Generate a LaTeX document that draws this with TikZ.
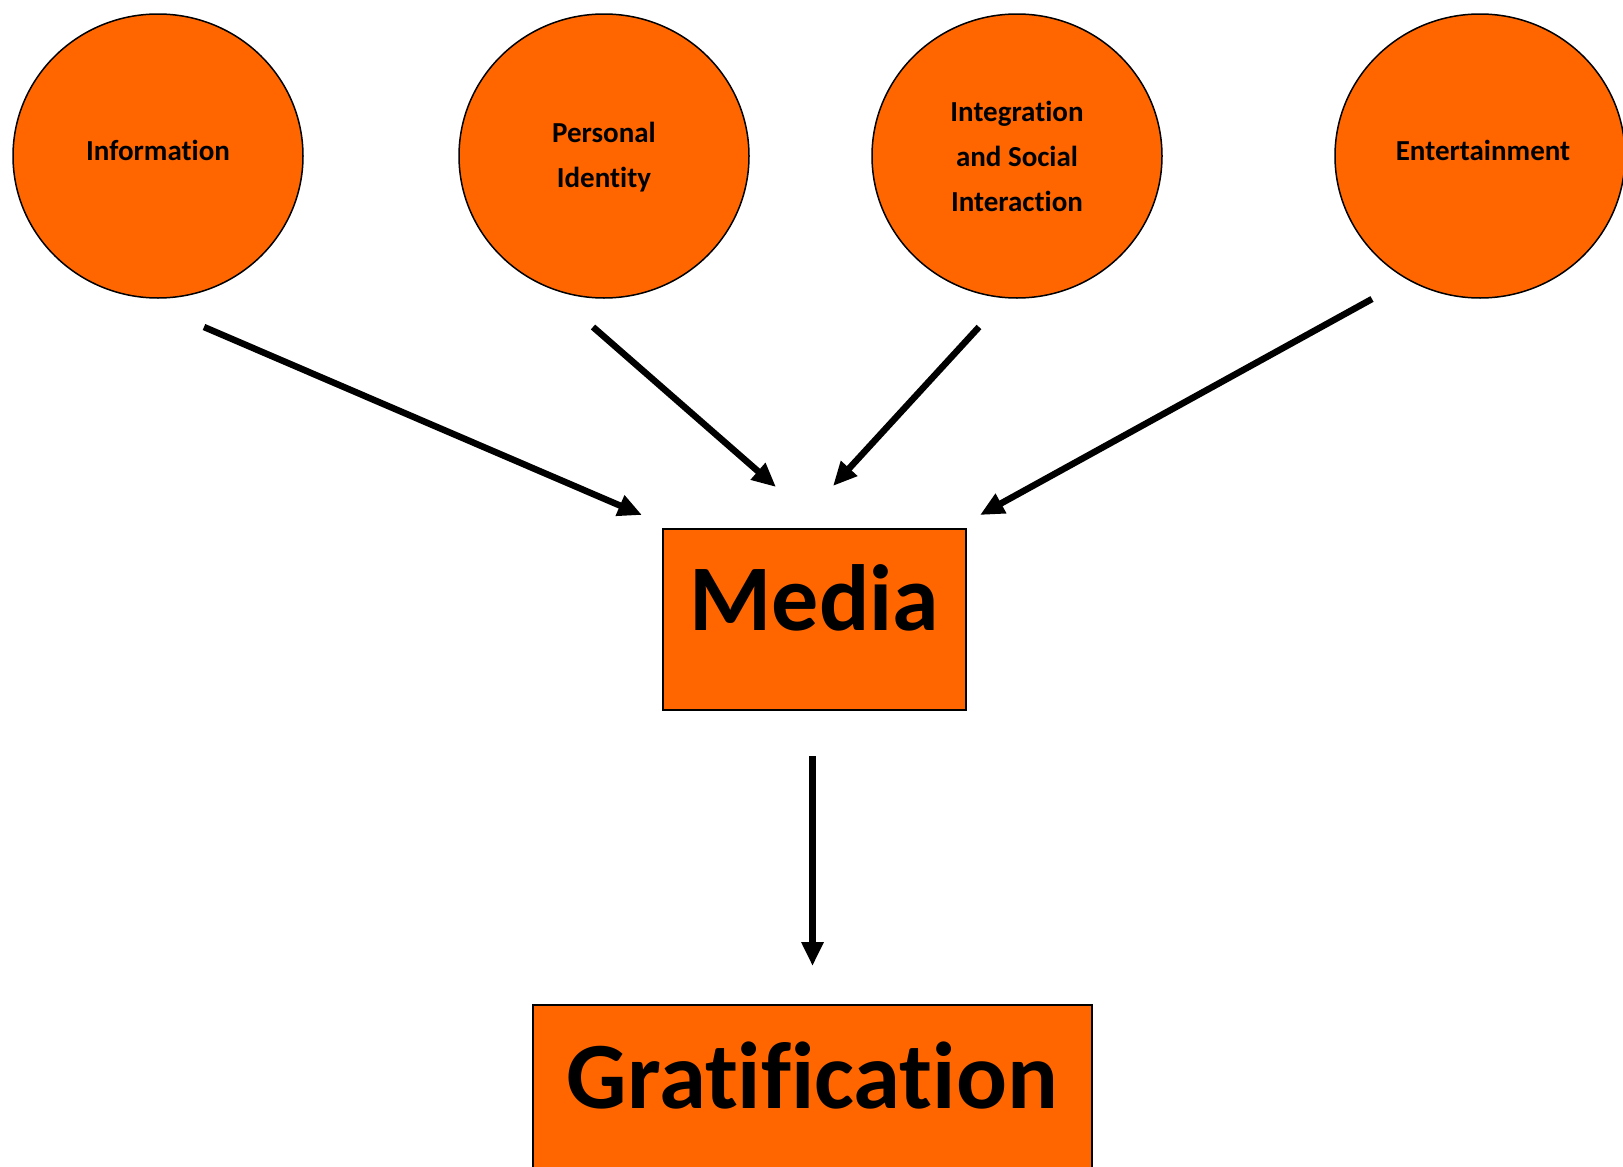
\documentclass[tikz,border=0pt]{standalone}
\usepackage{fontspec}
\setmainfont[Ligatures=CommonOff]{Carlito}
\usetikzlibrary{shapes.geometric,arrows.meta}
\definecolor{orng}{HTML}{FF6600}
\begin{document}
\begin{tikzpicture}[x=1pt,y=-1pt,
  oval/.style={ellipse,draw=black,line width=1.5pt,fill=orng,minimum width=290pt,minimum height=284pt,inner sep=0pt,align=center,font=\fontsize{29}{45}\selectfont\bfseries},
  bigbox/.style={rectangle,draw=black,line width=2pt,fill=orng,inner sep=0pt},
  arr/.style={line width=6.5pt,-{Triangle[length=24pt,width=21pt]}}]
\useasboundingbox (0,0) rectangle (1623,1167);
\node[oval] (info) at (158,156) {\raisebox{12pt}{Information}};
\node[oval] (pers) at (604,156) {\raisebox{2pt}{\begin{tabular}{@{}c@{}}Personal\\Identity\end{tabular}}};
\node[oval] (integ) at (1017,156) {Integration\\and Social\\Interaction};
\node[oval] (ent) at (1480,156) {\hspace*{6pt}\raisebox{12pt}{Entertainment}};
\node[bigbox,minimum width=303pt,minimum height=181pt] (media) at (814.5,619.5) {};
\node (medialbl) at (814.5,598) {\fontsize{94}{100}\selectfont\bfseries Media};
\draw[line width=2pt,fill=orng] (533,1005) rectangle (1092,1180);
\node (gratlbl) at (812.5,1076) {\fontsize{95}{100}\selectfont\bfseries Gratification};
\coordinate (a1s) at (204,327); \coordinate (a1e) at (642,515);
\coordinate (a2s) at (593,327); \coordinate (a2e) at (776,487);
\coordinate (a3s) at (979,327); \coordinate (a3e) at (833,486);
\coordinate (a4s) at (1372,299); \coordinate (a4e) at (980,515);
\coordinate (a5s) at (812.5,756); \coordinate (a5e) at (812.5,966);
\draw[arr] (a1s) -- (a1e);
\draw[arr] (a2s) -- (a2e);
\draw[arr] (a3s) -- (a3e);
\draw[arr] (a4s) -- (a4e);
\draw[arr,line width=7pt] (a5s) -- (a5e);
\end{tikzpicture}
\end{document}
